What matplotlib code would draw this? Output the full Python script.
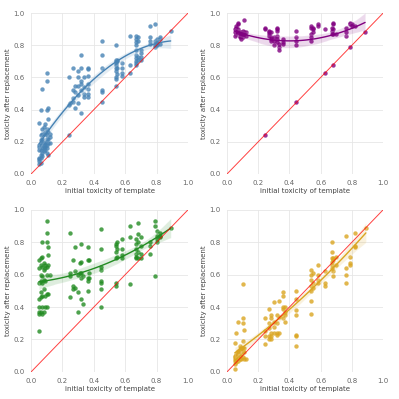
import numpy as np
import matplotlib
matplotlib.use("Agg")
import matplotlib.pyplot as plt
import seaborn as sns

# blue panel: (initial toxicity, toxicity after replacement)
blue_x = [0.05]*8 + [0.06]*8 + [0.07]*8 + [0.08]*5 + [0.09]*6 + [0.10]*9 + [0.11]*6 + [0.12]*3 \
    + [0.24]*3 + [0.25] + [0.27]*4 + [0.28]*3 + [0.30]*5 + [0.32]*6 + [0.34]*4 + [0.36]*7 \
    + [0.45]*6 + [0.54]*10 + [0.55]*4 + [0.58]*4 + [0.63]*3 + [0.67]*10 + [0.68]*4 + [0.70]*4 \
    + [0.76]*4 + [0.79]*4 + [0.80]*4 + [0.82]*3 + [0.89]
blue_y = [0.06, 0.08, 0.09, 0.10, 0.15, 0.17, 0.18, 0.32,
          0.07, 0.10, 0.12, 0.15, 0.18, 0.21, 0.24, 0.40,
          0.11, 0.13, 0.16, 0.19, 0.22, 0.25, 0.28, 0.53,
          0.14, 0.17, 0.19, 0.25, 0.29,
          0.15, 0.17, 0.18, 0.20, 0.26, 0.31,
          0.13, 0.16, 0.18, 0.22, 0.24, 0.28, 0.40, 0.58, 0.63,
          0.12, 0.19, 0.22, 0.26, 0.34, 0.41,
          0.19, 0.23, 0.25,
          0.24, 0.43, 0.60,
          0.44,
          0.66, 0.52, 0.47, 0.45,
          0.41, 0.55, 0.51,
          0.64, 0.55, 0.60, 0.49, 0.44,
          0.74, 0.66, 0.58, 0.56, 0.52, 0.38,
          0.60, 0.54, 0.50, 0.48,
          0.66, 0.65, 0.61, 0.56, 0.53, 0.50, 0.48,
          0.83, 0.74, 0.66, 0.52, 0.51, 0.45,
          0.80, 0.71, 0.70, 0.69, 0.68, 0.66, 0.64, 0.60, 0.59, 0.55,
          0.70, 0.71, 0.66, 0.62,
          0.69, 0.66, 0.63, 0.61,
          0.86, 0.68, 0.63,
          0.86, 0.84, 0.82, 0.80, 0.77, 0.74, 0.72, 0.70, 0.69, 0.68,
          0.85, 0.83, 0.71, 0.73,
          0.77, 0.75, 0.73, 0.71,
          0.92, 0.85, 0.83, 0.81,
          0.93, 0.83, 0.80, 0.79,
          0.84, 0.82, 0.81, 0.80,
          0.85, 0.84, 0.81,
          0.89]

# purple panel
purple_x = [0.05]*3 + [0.06]*4 + [0.07]*4 + [0.08]*4 + [0.09]*4 + [0.10]*3 + [0.11]*3 + [0.12]*2 \
    + [0.245]*3 + [0.27]*4 + [0.28]*4 + [0.30]*3 + [0.32]*6 + [0.33]*3 + [0.36]*3 \
    + [0.445]*5 + [0.54]*5 + [0.55]*3 + [0.58]*2 + [0.63]*2 + [0.67]*3 + [0.68]*5 + [0.70] \
    + [0.76]*3 + [0.79]*3 + [0.80]*2 + [0.82] + [0.885]
purple_y = [0.86, 0.88, 0.90,
            0.87, 0.89, 0.91, 0.92,
            0.88, 0.90, 0.93, 0.94,
            0.85, 0.87, 0.88, 0.86,
            0.84, 0.86, 0.87, 0.88,
            0.85, 0.87, 0.89,
            0.96, 0.87, 0.88,
            0.86, 0.88,
            0.90, 0.91, 0.245,
            0.86, 0.87, 0.88, 0.89,
            0.85, 0.84, 0.83, 0.88,
            0.83, 0.80, 0.85,
            0.91, 0.90, 0.89, 0.86, 0.84, 0.82,
            0.81, 0.77, 0.79,
            0.84, 0.82, 0.81,
            0.89, 0.85, 0.83, 0.80, 0.445,
            0.92, 0.91, 0.87, 0.85, 0.83,
            0.91, 0.90, 0.88,
            0.93, 0.92,
            0.90, 0.63,
            0.91, 0.89, 0.87,
            0.94, 0.93, 0.90, 0.87, 0.68,
            0.87,
            0.91, 0.88, 0.86,
            0.94, 0.93, 0.79,
            0.93, 0.92,
            0.92,
            0.885]

# green panel
green_x = [0.05]*8 + [0.06]*7 + [0.07]*8 + [0.08]*5 + [0.09]*5 + [0.10]*7 + [0.11]*4 + [0.12] \
    + [0.245]*4 + [0.27]*3 + [0.28]*3 + [0.30]*3 + [0.31]*2 + [0.32]*5 + [0.33]*2 + [0.36]*5 + [0.37]*3 \
    + [0.445]*8 + [0.54]*6 + [0.55]*3 + [0.58]*4 + [0.63]*3 + [0.67]*6 + [0.68]*5 + [0.70]*4 \
    + [0.76]*3 + [0.79]*3 + [0.80]*4 + [0.82]*3 + [0.89]
green_y = [0.25, 0.36, 0.37, 0.40, 0.45, 0.55, 0.64, 0.69,
           0.37, 0.46, 0.49, 0.56, 0.60, 0.66, 0.70,
           0.36, 0.40, 0.47, 0.55, 0.59, 0.65, 0.71, 0.80,
           0.37, 0.51, 0.57, 0.63, 0.67,
           0.40, 0.47, 0.56, 0.64, 0.66,
           0.40, 0.48, 0.60, 0.65, 0.80, 0.86, 0.93,
           0.48, 0.66, 0.72, 0.77,
           0.60,
           0.86, 0.61, 0.59, 0.46,
           0.69, 0.53, 0.51,
           0.77, 0.62, 0.52,
           0.60, 0.49, 0.37,
           0.67, 0.61,
           0.79, 0.68, 0.61, 0.58, 0.45,
           0.42, 0.59,
           0.77, 0.69, 0.58, 0.56, 0.50,
           0.69, 0.61, 0.58,
           0.88, 0.76, 0.65, 0.63, 0.56, 0.55, 0.51, 0.40,
           0.79, 0.78, 0.74, 0.70, 0.55, 0.53,
           0.80, 0.76, 0.71,
           0.82, 0.76, 0.72, 0.70,
           0.90, 0.83, 0.54,
           0.82, 0.79, 0.76, 0.73, 0.71, 0.70,
           0.92, 0.85, 0.80, 0.74, 0.70,
           0.83, 0.78, 0.73, 0.70,
           0.80, 0.78, 0.73,
           0.93, 0.90, 0.59,
           0.87, 0.84, 0.82, 0.80,
           0.86, 0.84, 0.83,
           0.89]

# yellow panel
yellow_x = [0.05]*7 + [0.06]*5 + [0.07]*5 + [0.08]*4 + [0.09]*3 + [0.10]*7 + [0.11]*4 + [0.12] \
    + [0.245]*4 + [0.27]*5 + [0.28]*5 + [0.30]*4 + [0.32]*4 + [0.33]*3 + [0.36]*5 + [0.37]*4 \
    + [0.445]*7 + [0.54]*7 + [0.55]*3 + [0.58]*4 + [0.63]*3 + [0.67]*6 + [0.68]*4 + [0.70]*2 \
    + [0.76]*4 + [0.79]*3 + [0.82]*3 + [0.89]
yellow_y = [0.02, 0.05, 0.07, 0.08, 0.09, 0.10, 0.18,
            0.06, 0.08, 0.10, 0.11, 0.24,
            0.07, 0.09, 0.12, 0.13, 0.31,
            0.08, 0.10, 0.14, 0.16,
            0.08, 0.11, 0.15,
            0.09, 0.13, 0.15, 0.19, 0.30, 0.33, 0.54,
            0.08, 0.12, 0.15, 0.26,
            0.08,
            0.33, 0.25, 0.22, 0.17,
            0.39, 0.30, 0.27, 0.22, 0.20,
            0.35, 0.33, 0.24, 0.22, 0.20,
            0.43, 0.31, 0.28, 0.24,
            0.35, 0.30, 0.24, 0.23,
            0.44, 0.34, 0.24,
            0.49, 0.47, 0.40, 0.39, 0.33,
            0.40, 0.37, 0.35, 0.31,
            0.50, 0.45, 0.38, 0.35, 0.23, 0.22, 0.16,
            0.63, 0.60, 0.57, 0.53, 0.50, 0.44, 0.36,
            0.61, 0.55, 0.52,
            0.66, 0.60, 0.57, 0.55,
            0.62, 0.55, 0.53,
            0.80, 0.74, 0.70, 0.68, 0.66, 0.64,
            0.70, 0.69, 0.62, 0.59,
            0.71, 0.66,
            0.84, 0.64, 0.60, 0.55,
            0.71, 0.67, 0.66,
            0.86, 0.78, 0.77,
            0.89]

panels = [(blue_x, blue_y, "steelblue"),
          (purple_x, purple_y, "purple"),
          (green_x, green_y, "forestgreen"),
          (yellow_x, yellow_y, "goldenrod")]
boxes = [[0.078, 0.564, 0.393, 0.403],
         [0.569, 0.564, 0.391, 0.403],
         [0.078, 0.068, 0.393, 0.406],
         [0.569, 0.068, 0.391, 0.406]]
ticks = [0.0, 0.2, 0.4, 0.6, 0.8, 1.0]

sns.set_style("whitegrid")
fig = plt.figure(figsize=(3.99, 3.99), dpi=100)
for (px, py, col), box in zip(panels, boxes):
    ax = fig.add_axes(box)
    sns.regplot(x=np.array(px), y=np.array(py), order=2, color=col, ax=ax, seed=0,
                scatter_kws={"s": 10, "linewidths": 0}, line_kws={"lw": 1})
    ax.plot([0, 1], [0, 1], color="red", lw=0.7, alpha=0.75)
    ax.set_xlim(0, 1)
    ax.set_ylim(0, 1)
    ax.set_xticks(ticks)
    ax.set_yticks(ticks)
    ax.tick_params(labelsize=5, pad=1, colors="#666666")
    ax.grid(lw=0.6, color="#e6e6e6")
    for s in ax.spines.values():
        s.set_visible(False)
    ax.set_xlabel("initial toxicity of template", fontsize=5, labelpad=1, color="#444444")
    ax.set_ylabel("toxicity after replacement", fontsize=5, labelpad=2, color="#444444")

fig.savefig("out.png", dpi=100)
